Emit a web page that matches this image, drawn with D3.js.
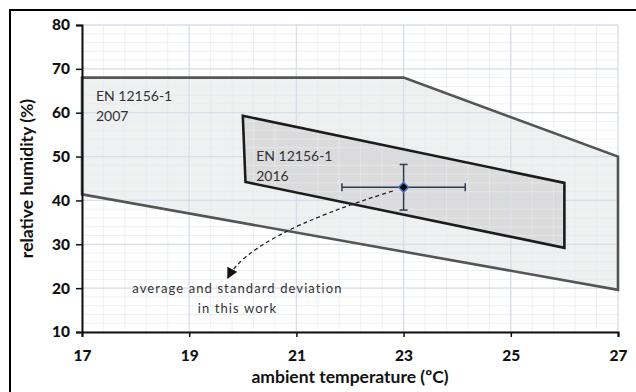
<!DOCTYPE html>
<html><head><meta charset="utf-8">
<script src="https://cdn.jsdelivr.net/npm/d3@7"></script>
<style>
html,body{margin:0;padding:0;background:#fff;}
svg{display:block;}
</style></head>
<body>
<svg id="chart" width="636" height="392"></svg>
<script>
// ---- data ----
const xTicks = [17, 19, 21, 23, 25, 27];
const yTicks = [10, 20, 30, 40, 50, 60, 70, 80];
const en2007T  = [17, 23, 27, 27, 17];
const en2007RH = [68, 68, 50, 19.6, 41.4];
const en2016T  = [20, 26, 26, 20.05];
const en2016RH = [59.3, 44, 29.2, 44.2];
const avgT = [23], avgRH = [43], sdT = [1.15], sdRH = [5.2];
const arrowT  = [22.8, 20.13, 19.72];   // start, control, end
const arrowRH = [42.15, 32.1, 22.3];
const labels2007 = ["EN 12156-1", "2007"];
const labels2016 = ["EN 12156-1", "2016"];
const noteLines = ["average and standard deviation", "in this work"];
const xTitle = "ambient temperature (ºC)";
const yTitle = "relative humidity (%)";

// ---- layout ----
const svg = d3.select("#chart");
const L = 82, R = 618, T = 25, B = 332;
const x = d3.scaleLinear().domain([17, 27]).range([L, R]);
const y = d3.scaleLinear().domain([10, 80]).range([B, T]);
const font = "Lato, 'Noto Sans', sans-serif";

svg.append("rect").attr("x", 10).attr("y", 10).attr("width", 700).attr("height", 500)
  .attr("fill", "#fff").attr("stroke", "#000").attr("stroke-width", 2);

// polygon fills
const poly = (ts, rs) => ts.map((t, i) => [x(t), y(rs[i])]);
const line = d3.line().curve(d3.curveLinearClosed);
svg.append("path").attr("d", line(poly(en2007T, en2007RH))).attr("fill", "#eff1f1").attr("stroke", "none");
svg.append("path").attr("d", line(poly(en2016T, en2016RH))).attr("fill", "#dcdbdb").attr("stroke", "none");

// grid
const g = svg.append("g");
const minorX = d3.range(17, 27.001, 0.4);
const minorY = d3.range(10, 80.001, 2);
g.selectAll("line.mx").data(minorX).join("line")
  .attr("x1", d => x(d)).attr("x2", d => x(d)).attr("y1", T).attr("y2", B)
  .attr("stroke", "#e6eaf1").attr("stroke-opacity", 0.7).attr("stroke-width", 1);
g.selectAll("line.my").data(minorY).join("line")
  .attr("y1", d => y(d)).attr("y2", d => y(d)).attr("x1", L).attr("x2", R)
  .attr("stroke", "#e6eaf1").attr("stroke-opacity", 0.7).attr("stroke-width", 1);
g.selectAll("line.Mx").data(xTicks).join("line")
  .attr("x1", d => x(d)).attr("x2", d => x(d)).attr("y1", T).attr("y2", B)
  .attr("stroke", "#d5dce8").attr("stroke-opacity", 0.85).attr("stroke-width", 1.3);
g.selectAll("line.My").data(yTicks).join("line")
  .attr("y1", d => y(d)).attr("y2", d => y(d)).attr("x1", L).attr("x2", R)
  .attr("stroke", "#d5dce8").attr("stroke-opacity", 0.85).attr("stroke-width", 1.3);

// polygon strokes
svg.append("path").attr("d", line(poly(en2007T, en2007RH))).attr("fill", "none")
  .attr("stroke", "#555", ).attr("stroke-width", 2.6).attr("stroke-linejoin", "miter");
svg.append("path").attr("d", line(poly(en2016T, en2016RH))).attr("fill", "none")
  .attr("stroke", "#1c1c1c").attr("stroke-width", 2.6).attr("stroke-linejoin", "miter");

// region labels
function multi(lines, tx, ry, gap, size, ls, anchor) {
  const t = svg.append("text").attr("font-family", font).attr("font-size", size)
    .attr("fill", "#333").attr("text-anchor", anchor || "start").attr("letter-spacing", ls || 0);
  lines.forEach((s, i) => t.append("tspan").attr("x", x(tx)).attr("y", y(ry) + i * gap).text(s));
}
multi(labels2007, 17.26, 62.74, 20, 14);
multi(labels2016, 20.25, 49.06, 20, 14);
multi(noteLines, 19.9, 18.96, 20, 13, 1.1, "middle");

// axes
const xAxis = d3.axisBottom(x).tickValues(xTicks).tickSize(5).tickPadding(13).tickFormat(d3.format("d"));
const yAxis = d3.axisLeft(y).tickValues(yTicks).tickSize(6).tickPadding(6).tickFormat(d3.format("d"));
const gx = svg.append("g").attr("transform", `translate(0,${B})`).call(xAxis);
const gy = svg.append("g").attr("transform", `translate(${L},0)`).call(yAxis);
[gx, gy].forEach(a => {
  a.select(".domain").attr("stroke", "#111").attr("stroke-width", 2);
  a.selectAll(".tick line").attr("stroke", "#111").attr("stroke-width", 1.5);
  a.selectAll(".tick text").attr("font-family", font).attr("font-weight", "900")
    .attr("font-size", 15.5).attr("fill", "#111");
});

svg.append("text").attr("x", (L + R) / 2).attr("y", 382.5).attr("text-anchor", "middle")
  .attr("font-family", font).attr("font-weight", "bold").attr("font-size", 17.5).attr("fill", "#111")
  .text(xTitle);
svg.append("text").attr("transform", `translate(33,${(T + B) / 2}) rotate(-90)`).attr("text-anchor", "middle")
  .attr("font-family", font).attr("font-weight", "bold").attr("font-size", 17.5).attr("fill", "#111")
  .text(yTitle);

// dashed arrow
const defs = svg.append("defs");
defs.append("marker").attr("id", "ah").attr("viewBox", "0 0 10 10").attr("refX", 9).attr("refY", 5)
  .attr("markerWidth", 11).attr("markerHeight", 11).attr("markerUnits", "userSpaceOnUse")
  .attr("orient", "auto")
  .append("path").attr("d", "M0,0 L10,5 L0,10 Z").attr("fill", "#111");
const p = d3.path();
p.moveTo(x(arrowT[0]), y(arrowRH[0]));
p.quadraticCurveTo(x(arrowT[1]), y(arrowRH[1]), x(arrowT[2]), y(arrowRH[2]));
svg.append("path").attr("d", p.toString()).attr("fill", "none").attr("stroke", "#222")
  .attr("stroke-width", 1.3).attr("stroke-dasharray", "4,3").attr("marker-end", "url(#ah)");

// error bars + point
const eb = svg.append("g").attr("stroke", "#2c3b50").attr("stroke-width", 1.5);
avgT.forEach((t, i) => {
  const cx = x(t), cy = y(avgRH[i]);
  const x0 = x(t - sdT[i]), x1 = x(t + sdT[i]);
  const y0 = y(avgRH[i] - sdRH[i]), y1 = y(avgRH[i] + sdRH[i]);
  eb.append("line").attr("x1", x0).attr("x2", x1).attr("y1", cy).attr("y2", cy);
  eb.append("line").attr("x1", cx).attr("x2", cx).attr("y1", y0).attr("y2", y1);
  eb.append("line").attr("x1", x0).attr("x2", x0).attr("y1", cy - 4).attr("y2", cy + 4);
  eb.append("line").attr("x1", x1).attr("x2", x1).attr("y1", cy - 4).attr("y2", cy + 4);
  eb.append("line").attr("x1", cx - 4).attr("x2", cx + 4).attr("y1", y0).attr("y2", y0);
  eb.append("line").attr("x1", cx - 4).attr("x2", cx + 4).attr("y1", y1).attr("y2", y1);
  svg.append("path").attr("d", d3.symbol(d3.symbolDiamond2, 60)())
    .attr("transform", `translate(${cx},${cy})`)
    .attr("fill", "#000").attr("stroke", "#3d6fc6").attr("stroke-width", 1.5);
});
</script>
</body></html>
